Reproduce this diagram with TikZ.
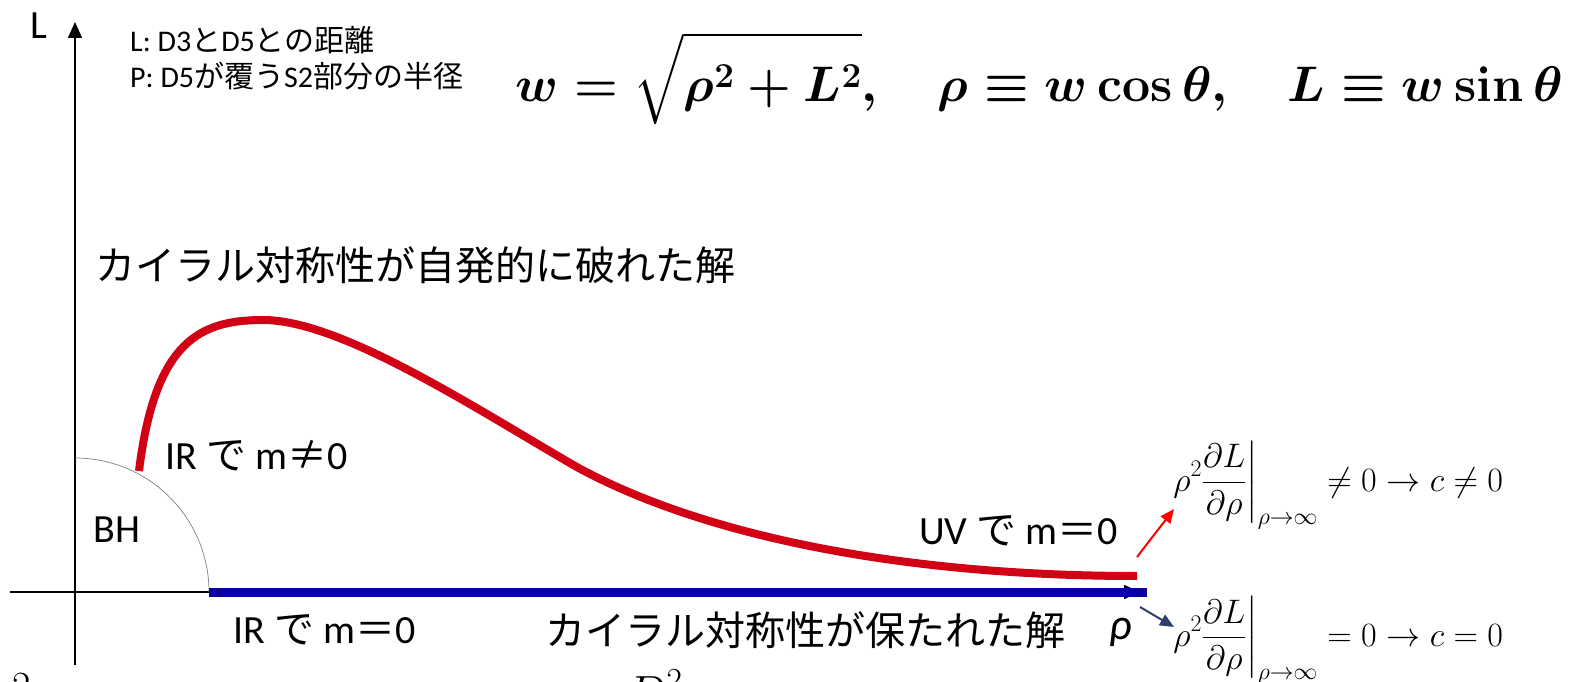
\RequirePackage{fix-cm}
\documentclass[tikz,border=0pt]{standalone}
\usepackage{amsmath,amssymb}
\usepackage[no-math]{fontspec}
\setmainfont{Carlito}
\newfontfamily\jp{Noto Sans CJK JP}
\usetikzlibrary{arrows.meta, positioning, calc}
\definecolor{brokenred}{RGB}{210,0,20}
\definecolor{keptblue}{RGB}{10,0,160}
\definecolor{flowred}{RGB}{255,0,0}
\definecolor{flownavy}{RGB}{47,62,110}
\newcommand{\ja}[1]{{\jp #1}}

\begin{document}
\begin{tikzpicture}[x=1pt, y=1pt,
  lbl/.style={inner sep=0pt, font=\fontsize{40}{48}\selectfont},
  note/.style={inner sep=0pt, anchor=west, font=\fontsize{30}{36}\selectfont},
  limit/.style={anchor=base west, inner sep=0pt, font=\fontsize{34}{41}\selectfont},
  axis/.style={line width=1.5pt, -{Triangle[length=16pt, width=14pt]}},
  flow/.style={line width=2pt, -{Triangle[length=14pt, width=12pt]}}]
  \useasboundingbox (0,0) rectangle (1571,681);

  % axes and black hole
  \coordinate (O) at (75,89);
  \draw[axis] (75,16) -- (75,659);
  \draw[axis] (10,89) -- (1140,89);
  \draw[gray, line width=0.7pt] (209,89) arc[start angle=0, end angle=90, radius=134];
  \node[lbl] (Llabel) at (39,655) {L};
  \node[lbl] (bh) at (117,151) {BH};

  % notes and definitions
  \node[note] (note1) at (130,641) {L: D3\ja{と}D5\ja{との距離}};
  \node[note] (note2) at (130,605) {P: D5\ja{が覆う}S2\ja{部分の半径}};
  \node[anchor=base west, inner sep=0pt, font=\fontsize{50}{60}\selectfont\boldmath] (wdef) at (515,579)
    {$w=\sqrt{\rule[-0.42em]{0pt}{1.66em}\rho^2+L^2},\quad \rho\equiv w\cos\theta,\quad L\equiv w\sin\theta$};

  % the two solutions
  \draw[keptblue, line width=9pt] (209,89) -- (1147,89);
  \draw[brokenred, line width=8pt] (139,210) .. controls (155,340) and (200,361) .. (263,361)
    .. controls (340,361) and (470,276) .. (575,215)
    .. controls (700,146) and (900,105) .. (1137,105);

  \node[lbl] (broken) at (415,416) {\ja{カイラル対称性が自発的に破れた解}};
  \node[lbl, anchor=west] (irbroken) at (165,225) {IR \ja{で} m\ja{≠}0};
  \node[lbl, anchor=east] (uvzero) at (1118,150) {UV \ja{で} m\ja{＝}0};
  \node[lbl, anchor=west] (irzero) at (233,51) {IR \ja{で} m\ja{＝}0};
  \node[lbl, anchor=west] (kept) at (545,51) {\ja{カイラル対称性が保たれた解}};
  \node[lbl, font=\fontsize{44}{52}\selectfont\itshape] (rho) at (1121,49) {ρ};

  % boundary behaviour
  \node[limit] (cneq) at (1172,190)
    {$\displaystyle\left.\rho^2\frac{\partial L}{\partial\rho}\right|_{\rho\to\infty}\neq 0\to c\neq 0$};
  \node[limit] (ceq) at (1172,35)
    {$\displaystyle\left.\rho^2\frac{\partial L}{\partial\rho}\right|_{\rho\to\infty}= 0\to c= 0$};
  \coordinate (redtail) at (1137,124);
  \coordinate (redtip) at (1174,172);
  \coordinate (navytail) at (1140,74);
  \coordinate (navytip) at (1174,54);
  \draw[flow, flowred] (redtail) -- (redtip);
  \draw[flow, flownavy] (navytail) -- (navytip);

  % cut-off text at the bottom edge
  \begin{scope}
    \clip (0,0) rectangle (1571,681);
    \node[anchor=base west, inner sep=0pt, font=\fontsize{40}{48}\selectfont] (cuttwo) at (12,-18) {$2$};
    \node[anchor=base west, inner sep=0pt, font=\fontsize{48}{58}\selectfont] (cutd) at (626,-28) {$D^2$};
  \end{scope}
\end{tikzpicture}
\end{document}
